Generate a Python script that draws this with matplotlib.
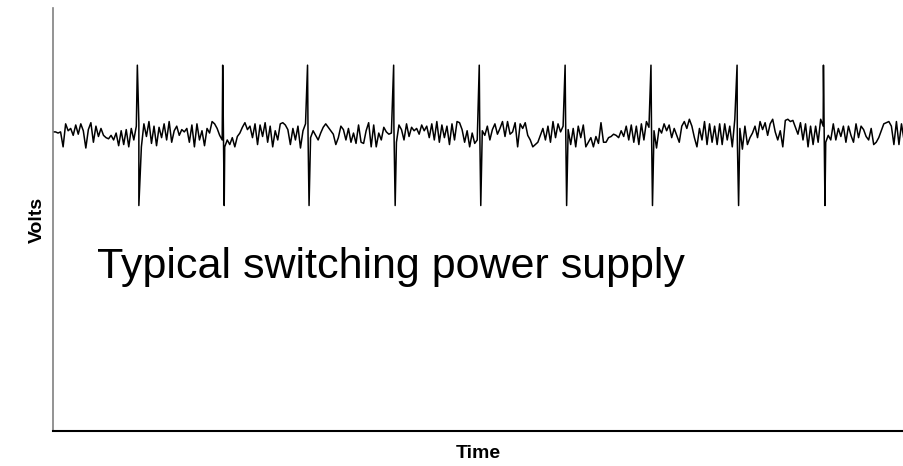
import numpy as np
import matplotlib
matplotlib.use("Agg")
import matplotlib.pyplot as plt

# Noise of the supply output (deviation from nominal, arbitrary units), one value per time step
volts_noise = [
    # segment 1
    1, 1, 0, 1, -12, 8, 2, 4, -2, 7, -1, 8, 2, -13, 3, 9, -8, 6, -3, 4, -2, -4, -5, -2, -6, 0, -11, 2, -10, 3, -12, 4, -6, 6,
    # segment 2
    9, -12, 8, -3, 10, -9, 6, -11, 5, -4, 8, -6, 10, -8, 2, 6, -2, 3, 1, 4, -8, 7, -12, 8, -6, 2, -11, 4, 0, 10, 8, 4, -2, -6,
    # segment 3
    -12, -6, -10, -4, -12, -3, 0, 5, 9, 3, 6, -4, 8, -10, 7, -3, 9, -8, 6, -12, 2, -6, 8, 9, 7, 3, -10, 4, -6, 6, -13, 2, 8, -2,
    # segment 4
    -4, 2, -2, -6, 0, 5, 8, 5, 2, -1, -10, -4, 6, 3, -6, 4, -8, 0, -9, 7, -8, -9, 2, 9, -12, 7, -12, 0, -6, 5, 1, -1, 0, 6,
    # segment 5
    -8, 7, 3, -6, 8, -3, 5, 2, 4, -1, 7, 2, 6, -4, 8, -6, 10, -8, 7, -4, 6, -10, 8, -6, 10, 9, 3, -8, 2, -12, 0, -9, -6, 2,
    # segment 6
    2, -2, 6, -6, 3, 8, -1, 4, 10, -3, 10, -1, 1, 9, -12, 8, 4, 9, -2, -6, -12, -10, -8, -2, 4, -6, 6, -8, 10, -4, 8, 1, 6, 10,
    # segment 7
    3, -10, 4, -12, 6, -4, 7, -12, -8, -4, -12, -3, -9, 9, -8, -8, -4, -3, -1, -2, -4, 2, -3, 6, -6, 7, -8, 6, -10, 8, -6, 10, 5, 6,
    # segment 8
    2, -13, 4, 0, 8, 2, 7, -4, 4, -2, -8, 6, 10, 4, 12, 6, -4, -12, 4, -6, 10, -10, 8, -8, 6, -10, 8, -10, 8, -6, 6, -12, 12, -6,
    # segment 9
    4, -14, 6, -10, -4, 0, 6, -4, 10, 3, 9, -2, 8, 12, 1, -6, 2, -12, 11, 12, 10, 11, 5, -1, 9, -6, 8, -12, 6, -10, 6, -8, 12, 6,
    # segment 10
    -8, -2, -6, 8, -6, 4, -3, 6, -8, 6, -2, -8, 8, -4, 6, 3, -3, -6, 4, -10, -8, -4, 2, 8, 9, 10, 6, -10, 10, -10, 8, -6,
]

# Switching spikes
spike_times = [33.4, 67.2, 100.8, 134.9, 168.8, 202.8, 236.8, 270.9, 305.1]
spike_high = [59, 59, 59, 59, 59, 59, 59, 59, 59]
spike_low = [-63, -63, -63, -63, -63, -63, -63, -63, -63]
spike_gap = 0.6

title_text = "Typical switching power supply"
x_label = "Time"
y_label = "Volts"

# merge noise and spikes into a single trace ordered by time
t_noise = np.arange(len(volts_noise), dtype=float)
pts = list(zip(t_noise, volts_noise))
for ts, hi, lo in zip(spike_times, spike_high, spike_low):
    pts.append((ts, hi))
    pts.append((ts + spike_gap, lo))
pts.sort(key=lambda p: p[0])
t_all = [p[0] for p in pts]
v_all = [p[1] for p in pts]

plt.rcParams['font.family'] = ['Liberation Sans', 'DejaVu Sans']

W, H = 904, 466
fig = plt.figure(figsize=(W / 100, H / 100), dpi=100)
ax = fig.add_axes([53 / W, (H - 431) / H, (W - 53) / W, (431 - 8) / H])

ax.plot(t_all, v_all, color='black', lw=1.1)

ax.set_xlim(0, len(volts_noise) - 1)
ax.set_ylim(-259, 108.7)
ax.set_xticks([])
ax.set_yticks([])
for s in ['top', 'right']:
    ax.spines[s].set_visible(False)
ax.spines['left'].set_color('#808080')
ax.spines['left'].set_linewidth(1.2)
ax.spines['bottom'].set_color('black')
ax.spines['bottom'].set_linewidth(1.5)

ax.text(0.052, 0.388, title_text, transform=ax.transAxes, fontsize=31,
        ha='left', va='center', color='black')

ax.set_xlabel(x_label, fontsize=14, fontweight='bold', labelpad=10)
ax.set_ylabel(y_label, fontsize=14, fontweight='bold', labelpad=5)

fig.savefig("out.png", dpi=100)
